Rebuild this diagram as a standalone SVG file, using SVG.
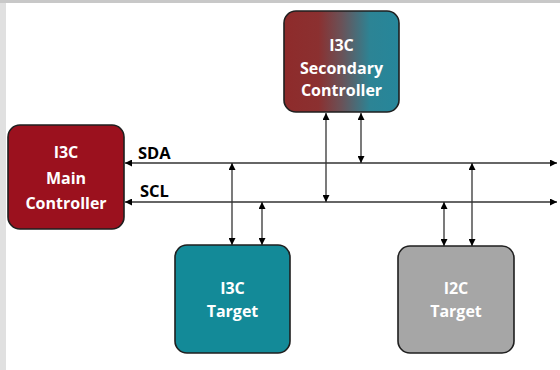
<svg xmlns="http://www.w3.org/2000/svg" width="560" height="370" viewBox="0 0 560 370">
  <style>
    .box { stroke: #1f1f1f; stroke-width: 1.6; }
    .label { font-family: "Open Sans", "Noto Sans", sans-serif; font-weight: bold; font-size: 16px; fill: #ffffff; text-anchor: middle; }
    .bus-label { font-family: "Open Sans", "Noto Sans", sans-serif; font-weight: bold; font-size: 16.5px; fill: #000000; }
    .wire { stroke: #333333; stroke-width: 1.3; fill: none; }
  </style>
  <defs>
    <linearGradient id="secGrad" x1="0" y1="0" x2="1" y2="0">
      <stop offset="0" stop-color="#8e2b2b"/>
      <stop offset="0.3" stop-color="#8b3030"/>
      <stop offset="0.5" stop-color="#6a5258"/>
      <stop offset="0.75" stop-color="#2c8495"/>
      <stop offset="1" stop-color="#26869a"/>
    </linearGradient>
    <marker id="arrow" viewBox="0 0 10 10" refX="10" refY="5" markerWidth="7" markerHeight="7" markerUnits="userSpaceOnUse" orient="auto-start-reverse">
      <path d="M0,0 L10,5 L0,10 z" fill="#000000"/>
    </marker>
  </defs>

  <!-- page frame -->
  <rect x="0" y="0" width="560" height="370" fill="#ffffff"/>
  <rect x="0" y="0" width="560" height="3" fill="#c8c8c8"/>
  <rect x="0" y="3" width="6" height="367" fill="#e0e0e0"/>

  <!-- bus lines and drops -->
  <g id="connectors">
    <line class="wire" x1="125" y1="163" x2="557" y2="163" marker-start="url(#arrow)" marker-end="url(#arrow)"/>
    <line class="wire" x1="125" y1="202" x2="557" y2="202" marker-start="url(#arrow)" marker-end="url(#arrow)"/>
    <line class="wire" x1="232" y1="163" x2="232" y2="245" marker-start="url(#arrow)" marker-end="url(#arrow)"/>
    <line class="wire" x1="262" y1="202" x2="262" y2="245" marker-start="url(#arrow)" marker-end="url(#arrow)"/>
    <line class="wire" x1="326" y1="113" x2="326" y2="202" marker-start="url(#arrow)" marker-end="url(#arrow)"/>
    <line class="wire" x1="361" y1="113" x2="361" y2="163" marker-start="url(#arrow)" marker-end="url(#arrow)"/>
    <line class="wire" x1="444" y1="202" x2="444" y2="246" marker-start="url(#arrow)" marker-end="url(#arrow)"/>
    <line class="wire" x1="472" y1="163" x2="472" y2="246" marker-start="url(#arrow)" marker-end="url(#arrow)"/>
    <text class="bus-label" x="138" y="159">SDA</text>
    <text class="bus-label" x="140" y="197">SCL</text>
  </g>

  <g id="main-controller">
    <rect class="box" x="8" y="125" width="116" height="104" rx="12" fill="#9b111e"/>
    <text class="label" x="66" y="158">I3C</text>
    <text class="label" x="66" y="184">Main</text>
    <text class="label" x="66" y="209">Controller</text>
  </g>

  <g id="secondary-controller">
    <rect class="box" x="284" y="11" width="115" height="101" rx="12" fill="url(#secGrad)"/>
    <text class="label" x="341.5" y="51">I3C</text>
    <text class="label" x="341.5" y="74">Secondary</text>
    <text class="label" x="341.5" y="96">Controller</text>
  </g>

  <g id="i3c-target">
    <rect class="box" x="175" y="245" width="115" height="108" rx="12" fill="#138a98"/>
    <text class="label" x="232.5" y="294">I3C</text>
    <text class="label" x="232.5" y="317">Target</text>
  </g>

  <g id="i2c-target">
    <rect class="box" x="398" y="246" width="116" height="107" rx="12" fill="#a6a6a6"/>
    <text class="label" x="456" y="294">I2C</text>
    <text class="label" x="456" y="317">Target</text>
  </g>
</svg>
